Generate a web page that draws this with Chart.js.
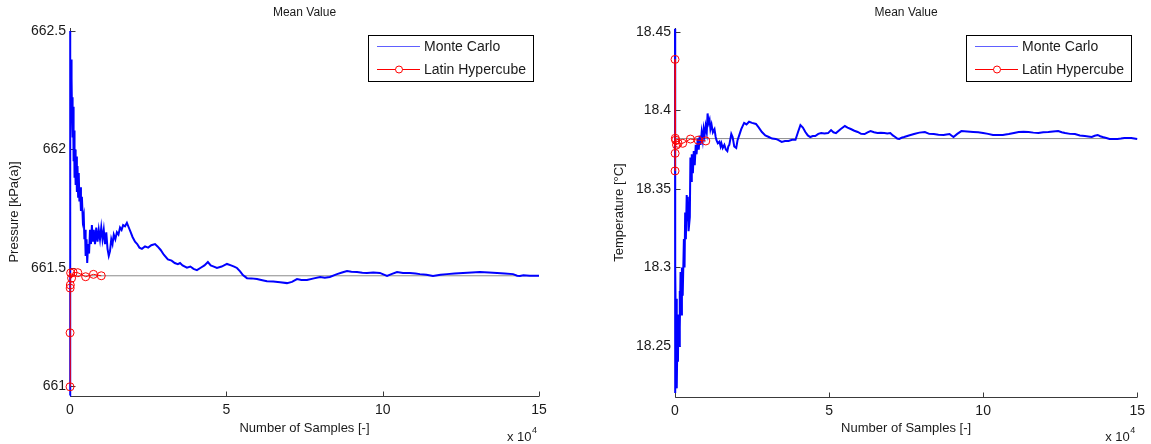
<!DOCTYPE html>
<html><head><meta charset="utf-8">
<script src="https://cdn.jsdelivr.net/npm/chart.js@4.4.1/dist/chart.umd.min.js"></script>
<style>
html,body{margin:0;padding:0;background:#fff;}
#wrap{position:relative;width:1151px;height:444px;overflow:hidden;background:#fff;}
.box{position:absolute;top:0;height:444px;}
</style></head><body>
<div id="wrap">
<div class="box" style="left:0;width:575px"><canvas id="c1" width="575" height="444"></canvas></div>
<div class="box" style="left:575px;width:576px"><canvas id="c2" width="576" height="444"></canvas></div>
</div>
<script>
// ---------- data ----------
const seriesNames = ['Monte Carlo', 'Latin Hypercube'];
const xTickValues = [0, 50000, 100000, 150000];
const xTickLabels = ['0', '5', '10', '15'];
const pTickValues = [661, 661.5, 662, 662.5];
const pTickLabels = ['661', '661.5', '662', '662.5'];
const tTickValues = [18.25, 18.3, 18.35, 18.4, 18.45];
const tTickLabels = ['18.25', '18.3', '18.35', '18.4', '18.45'];

// Pressure, Monte Carlo running mean
const pMcX = [1,2,3,5,8,12,20,30,50,80,
120,200,300,400,500,640,760,900,1000,1150,
1300,1450,1600,1800,2000,2200,2400,2600,2800,3000,
3200,3500,3800,4100,4400,4600,4800,5000,5300,5500,
5800,6100,6400,6700,7000,7300,7600,8000,8400,8800,
9200,9600,10000,10400,10800,11200,11600,12000,12400,12800,
13200,13600,14000,14500,15000,15500,16000,16500,17000,17600,
18200,18800,19400,20000,20800,21500,22200,23000,24000,25000,
26000,27200,28000,29000,30000,31300,32500,33500,34500,35200,
36000,37400,38500,39500,40600,41800,43000,44100,45000,46000,
47000,48500,50200,51500,52500,53400,54400,55300,56600,58000,
59800,61500,63000,65000,67200,69400,71000,72600,74000,75800,
78000,80000,81500,83100,85400,87000,88600,90000,91800,93500,
95000,97000,99100,100200,101400,103000,104600,106500,108700,110500,
111900,114000,116100,118500,120600,123000,125700,128500,131100,134000,
136600,139000,141700,143000,143900,145000,147000,150000];
const pMcY = [660.96,662.50,661.30,662.20,661.60,662.45,661.80,662.30,661.90,662.35,
662.00,662.42,662.20,662.38,662.30,662.15,662.22,662.05,662.18,661.95,
662.08,661.88,662.00,661.85,661.97,661.82,661.93,661.80,661.90,661.78,
661.84,661.74,661.80,661.70,661.72,661.62,661.66,661.55,661.62,661.52,
661.60,661.56,661.66,661.60,661.68,661.61,661.66,661.60,661.67,661.61,
661.66,661.62,661.67,661.62,661.66,661.60,661.65,661.58,661.55,661.57,
661.62,661.60,661.64,661.62,661.65,661.64,661.67,661.66,661.68,661.675,
661.69,661.67,661.65,661.63,661.61,661.60,661.585,661.58,661.59,661.585,
661.595,661.60,661.59,661.575,661.555,661.535,661.53,661.52,661.515,661.52,
661.51,661.50,661.505,661.495,661.49,661.50,661.51,661.524,661.51,661.505,
661.499,661.505,661.516,661.51,661.505,661.499,661.485,661.469,661.456,661.455,
661.452,661.447,661.443,661.442,661.439,661.435,661.44,661.452,661.448,661.448,
661.455,661.461,661.458,661.461,661.473,661.48,661.486,661.483,661.482,661.479,
661.478,661.48,661.478,661.472,661.465,661.474,661.482,661.478,661.478,661.476,
661.473,661.47,661.465,661.47,661.473,661.476,661.478,661.48,661.482,661.48,
661.478,661.476,661.473,661.466,661.465,661.468,661.466,661.466];

// Temperature, Monte Carlo running mean
const tMcX = [1,2,3,5,8,12,20,30,50,80,
120,200,300,400,500,641,800,962,1100,1300,
1500,1603,1800,2000,2244,2500,2885,3100,3300,3526,
3800,4000,4167,4400,4808,5000,5200,5449,5800,6090,
6400,6731,7000,7372,7700,8013,8300,8654,9000,9295,
9600,9936,10300,10577,10900,11218,11500,11859,12300,12820,
13200,13461,13900,14423,14800,15064,15500,16025,16500,16987,
17300,17628,18269,18700,19230,19871,20300,20833,21500,22435,
23200,24038,25000,26281,27200,28204,29300,30448,31500,32691,
33600,34614,35700,36858,38000,39101,39900,40704,41500,42306,
43100,43909,44700,45511,46500,47434,48500,49678,50639,51400,
52242,53700,55126,56000,57049,58200,59293,60400,61536,62500,
63459,64600,65703,66800,67946,68900,69869,70700,71472,72100,
72754,73500,74356,75900,77561,79300,81087,82500,83971,85500,
87176,88100,89099,89700,90381,91600,92945,94800,96791,98400,
99996,101600,103201,104800,106406,107300,108329,110000,111534,113100,
114739,116300,117944,119500,121149,122700,124354,125500,126598,128200,
129803,131400,133008,134100,135251,136200,137174,138000,138777,140000,
141020,142300,143584,144700,145828,147000,148071,150000];
const tMcY = [18.452,18.220,18.400,18.240,18.350,18.250,18.440,18.280,18.380,18.230,
18.320,18.250,18.300,18.235,18.280,18.223,18.260,18.240,18.270,18.250,
18.285,18.262,18.297,18.270,18.300,18.282,18.318,18.300,18.335,18.318,
18.346,18.330,18.345,18.323,18.332,18.370,18.355,18.372,18.360,18.374,
18.365,18.378,18.372,18.382,18.375,18.384,18.378,18.386,18.381,18.388,
18.384,18.390,18.386,18.398,18.392,18.394,18.388,18.391,18.386,18.388,
18.383,18.381,18.379,18.380,18.377,18.379,18.376,18.378,18.375,18.374,
18.377,18.378,18.385,18.383,18.377,18.376,18.381,18.384,18.388,18.392,
18.391,18.3927,18.392,18.3913,18.389,18.3862,18.384,18.383,18.382,18.3818,
18.381,18.3799,18.3805,18.3805,18.3812,18.3812,18.386,18.3906,18.389,18.3862,
18.384,18.383,18.3836,18.3836,18.385,18.3855,18.3852,18.3855,18.3874,18.386,
18.3855,18.388,18.390,18.389,18.3881,18.387,18.3862,18.385,18.3849,18.386,
18.3868,18.386,18.3855,18.3857,18.3855,18.3853,18.3855,18.384,18.383,18.382,
18.3818,18.3825,18.383,18.384,18.3849,18.3858,18.3862,18.385,18.3849,18.3845,
18.3843,18.3846,18.3849,18.384,18.383,18.385,18.3868,18.3865,18.3862,18.386,
18.3855,18.385,18.3843,18.3843,18.3843,18.3846,18.3849,18.3856,18.3862,18.3863,
18.3862,18.3858,18.3855,18.386,18.3862,18.3865,18.3868,18.386,18.3855,18.385,
18.3849,18.384,18.3836,18.3833,18.383,18.3838,18.3843,18.3835,18.383,18.3824,
18.3818,18.3818,18.3818,18.382,18.3824,18.3824,18.3824,18.3818];

// Latin Hypercube estimates (sample sizes shared)
const lhsN = [10, 20, 50, 100, 200, 500, 1000, 2500, 5000, 7500, 10000];
const pLhsY = [660.997, 661.225, 661.414, 661.427, 661.478, 661.456, 661.48, 661.479, 661.462, 661.472, 661.466];
const tLhsY = [18.4324, 18.3614, 18.3726, 18.3822, 18.381, 18.3779, 18.379, 18.379, 18.3817, 18.381, 18.3805];

// reference (final mean) values
const pMean = 661.466;
const tMean = 18.382;

// ---------- drawing ----------
const FONT = "'Liberation Sans', Arial, Helvetica, sans-serif";
const TXT = '#1a1a1a';
function pts(xs, ys) { return xs.map((x, i) => ({ x: x, y: ys[i] })); }

const decor = {
  id: 'decor',
  beforeDatasetsDraw(chart) {
    const { ctx, chartArea: a } = chart;
    const xs = chart.scales.x, ys = chart.scales.y;
    ctx.save();
    ctx.strokeStyle = '#3a3a3a'; ctx.lineWidth = 1;
    const L = Math.round(a.left) + 0.5, B = Math.round(a.bottom) + 0.5;
    ctx.beginPath();
    ctx.moveTo(L, a.top); ctx.lineTo(L, B); ctx.lineTo(a.right, B);
    ys.ticks.forEach(t => { const y = Math.round(ys.getPixelForValue(t.value)) + 0.5; ctx.moveTo(L, y); ctx.lineTo(L + 5, y); });
    xs.ticks.forEach(t => { const x = Math.round(xs.getPixelForValue(t.value)) + 0.5; ctx.moveTo(x, B); ctx.lineTo(x, B - 5); });
    ctx.stroke();
    ctx.restore();
  },
  afterDraw(chart, args, o) {
    const { ctx, chartArea: a } = chart;
    ctx.save();
    // title
    ctx.fillStyle = TXT;
    ctx.font = '12px ' + FONT;
    ctx.textAlign = 'center'; ctx.textBaseline = 'middle';
    ctx.fillText(o.title, (a.left + a.right) / 2, 13);
    // exponent label
    ctx.font = '9px ' + FONT;
    const w4 = ctx.measureText('4').width;
    ctx.textAlign = 'left'; ctx.textBaseline = 'alphabetic';
    const ex = a.right - 2 - w4;
    ctx.fillText('4', ex, 433);
    ctx.font = '13px ' + FONT;
    ctx.textAlign = 'right';
    ctx.fillText('x 10', ex - 0.5, 441);
    // legend
    const bw = 165, bh = 46;
    const bx = Math.round(a.right - 6 - bw), by = Math.round(a.top + 7);
    ctx.fillStyle = '#fff'; ctx.fillRect(bx, by, bw, bh);
    ctx.strokeStyle = '#000'; ctx.lineWidth = 1;
    ctx.strokeRect(bx + 0.5, by + 0.5, bw, bh);
    const y1 = by + 11, y2 = by + 34;
    ctx.strokeStyle = '#6060ff';
    ctx.beginPath(); ctx.moveTo(bx + 9, y1 + 0.5); ctx.lineTo(bx + 52, y1 + 0.5); ctx.stroke();
    ctx.strokeStyle = '#ff0000';
    ctx.beginPath(); ctx.moveTo(bx + 9, y2 + 0.5); ctx.lineTo(bx + 52, y2 + 0.5); ctx.stroke();
    ctx.fillStyle = '#fff';
    ctx.beginPath(); ctx.arc(bx + 31, y2 + 0.5, 3.5, 0, Math.PI * 2); ctx.fill(); ctx.stroke();
    ctx.fillStyle = TXT;
    ctx.font = '14px ' + FONT;
    ctx.textAlign = 'left'; ctx.textBaseline = 'middle';
    ctx.fillText(seriesNames[0], bx + 56, y1 + 1);
    ctx.fillText(seriesNames[1], bx + 56, y2 + 1);
    ctx.restore();
  }
};

function makeChart(id, cfg) {
  const labelFor = (vals, labs) => (v) => { const i = vals.findIndex(t => Math.abs(t - v) < 1e-9); return i >= 0 ? labs[i] : ''; };
  return new Chart(document.getElementById(id), {
    type: 'line',
    data: {
      datasets: [
        { label: seriesNames[1], data: pts(lhsN, cfg.lhsY), borderColor: '#ff0000', borderWidth: 1,
          pointRadius: 4, pointHoverRadius: 4, pointStyle: 'circle', pointBackgroundColor: 'rgba(0,0,0,0)',
          pointBorderColor: '#ff0000', pointBorderWidth: 1, fill: false, tension: 0, clip: false },
        { label: seriesNames[0], data: pts(cfg.mcX, cfg.mcY), borderColor: '#0000ff', borderWidth: 2,
          pointRadius: 0, fill: false, tension: 0, clip: false },
        { label: 'mean', data: pts([0, 150000], [cfg.mean, cfg.mean]), borderColor: '#8c8c8c', borderWidth: 1,
          pointRadius: 0, fill: false, tension: 0 }
      ]
    },
    options: {
      responsive: false, animation: false, devicePixelRatio: 1,
      layout: { padding: cfg.padding },
      plugins: { legend: { display: false }, tooltip: { enabled: false }, decor: { title: 'Mean Value' } },
      scales: {
        x: {
          type: 'linear', min: 0, max: 150000,
          afterBuildTicks: s => { s.ticks = xTickValues.map(v => ({ value: v })); },
          afterFit: s => { s.height = cfg.xh; },
          grid: { display: false, drawTicks: false }, border: { display: false },
          ticks: { callback: labelFor(xTickValues, xTickLabels), color: TXT, font: { family: FONT, size: 14 }, padding: 6, maxRotation: 0, autoSkip: false },
          title: { display: true, text: 'Number of Samples [-]', color: TXT, font: { family: FONT, size: 13 }, padding: { top: 0, bottom: 8 } }
        },
        y: {
          type: 'linear', min: cfg.ymin, max: cfg.ymax,
          afterBuildTicks: s => { s.ticks = cfg.yTicks.map(v => ({ value: v })); },
          afterFit: s => { s.width = 70; },
          grid: { display: false, drawTicks: false }, border: { display: false },
          ticks: { callback: labelFor(cfg.yTicks, cfg.yLabels), color: TXT, font: { family: FONT, size: 14 }, padding: 4, autoSkip: false },
          title: { display: true, text: cfg.yTitle, color: TXT, font: { family: FONT, size: 13 }, padding: { top: 7, bottom: 0 } }
        }
      }
    },
    plugins: [decor]
  });
}

makeChart('c1', { mcX: pMcX, mcY: pMcY, lhsY: pLhsY, mean: pMean, ymin: 660.958, ymax: 662.513,
  yTicks: pTickValues, yLabels: pTickLabels, yTitle: 'Pressure [kPa(a)]',
  padding: { left: 0, right: 36, top: 28, bottom: 0 }, xh: 48 });
makeChart('c2', { mcX: tMcX, mcY: tMcY, lhsY: tLhsY, mean: tMean, ymin: 18.2175, ymax: 18.4524,
  yTicks: tTickValues, yLabels: tTickLabels, yTitle: 'Temperature [°C]',
  padding: { left: 30, right: 8, top: 28, bottom: 0 }, xh: 47 });
</script>
</body></html>
